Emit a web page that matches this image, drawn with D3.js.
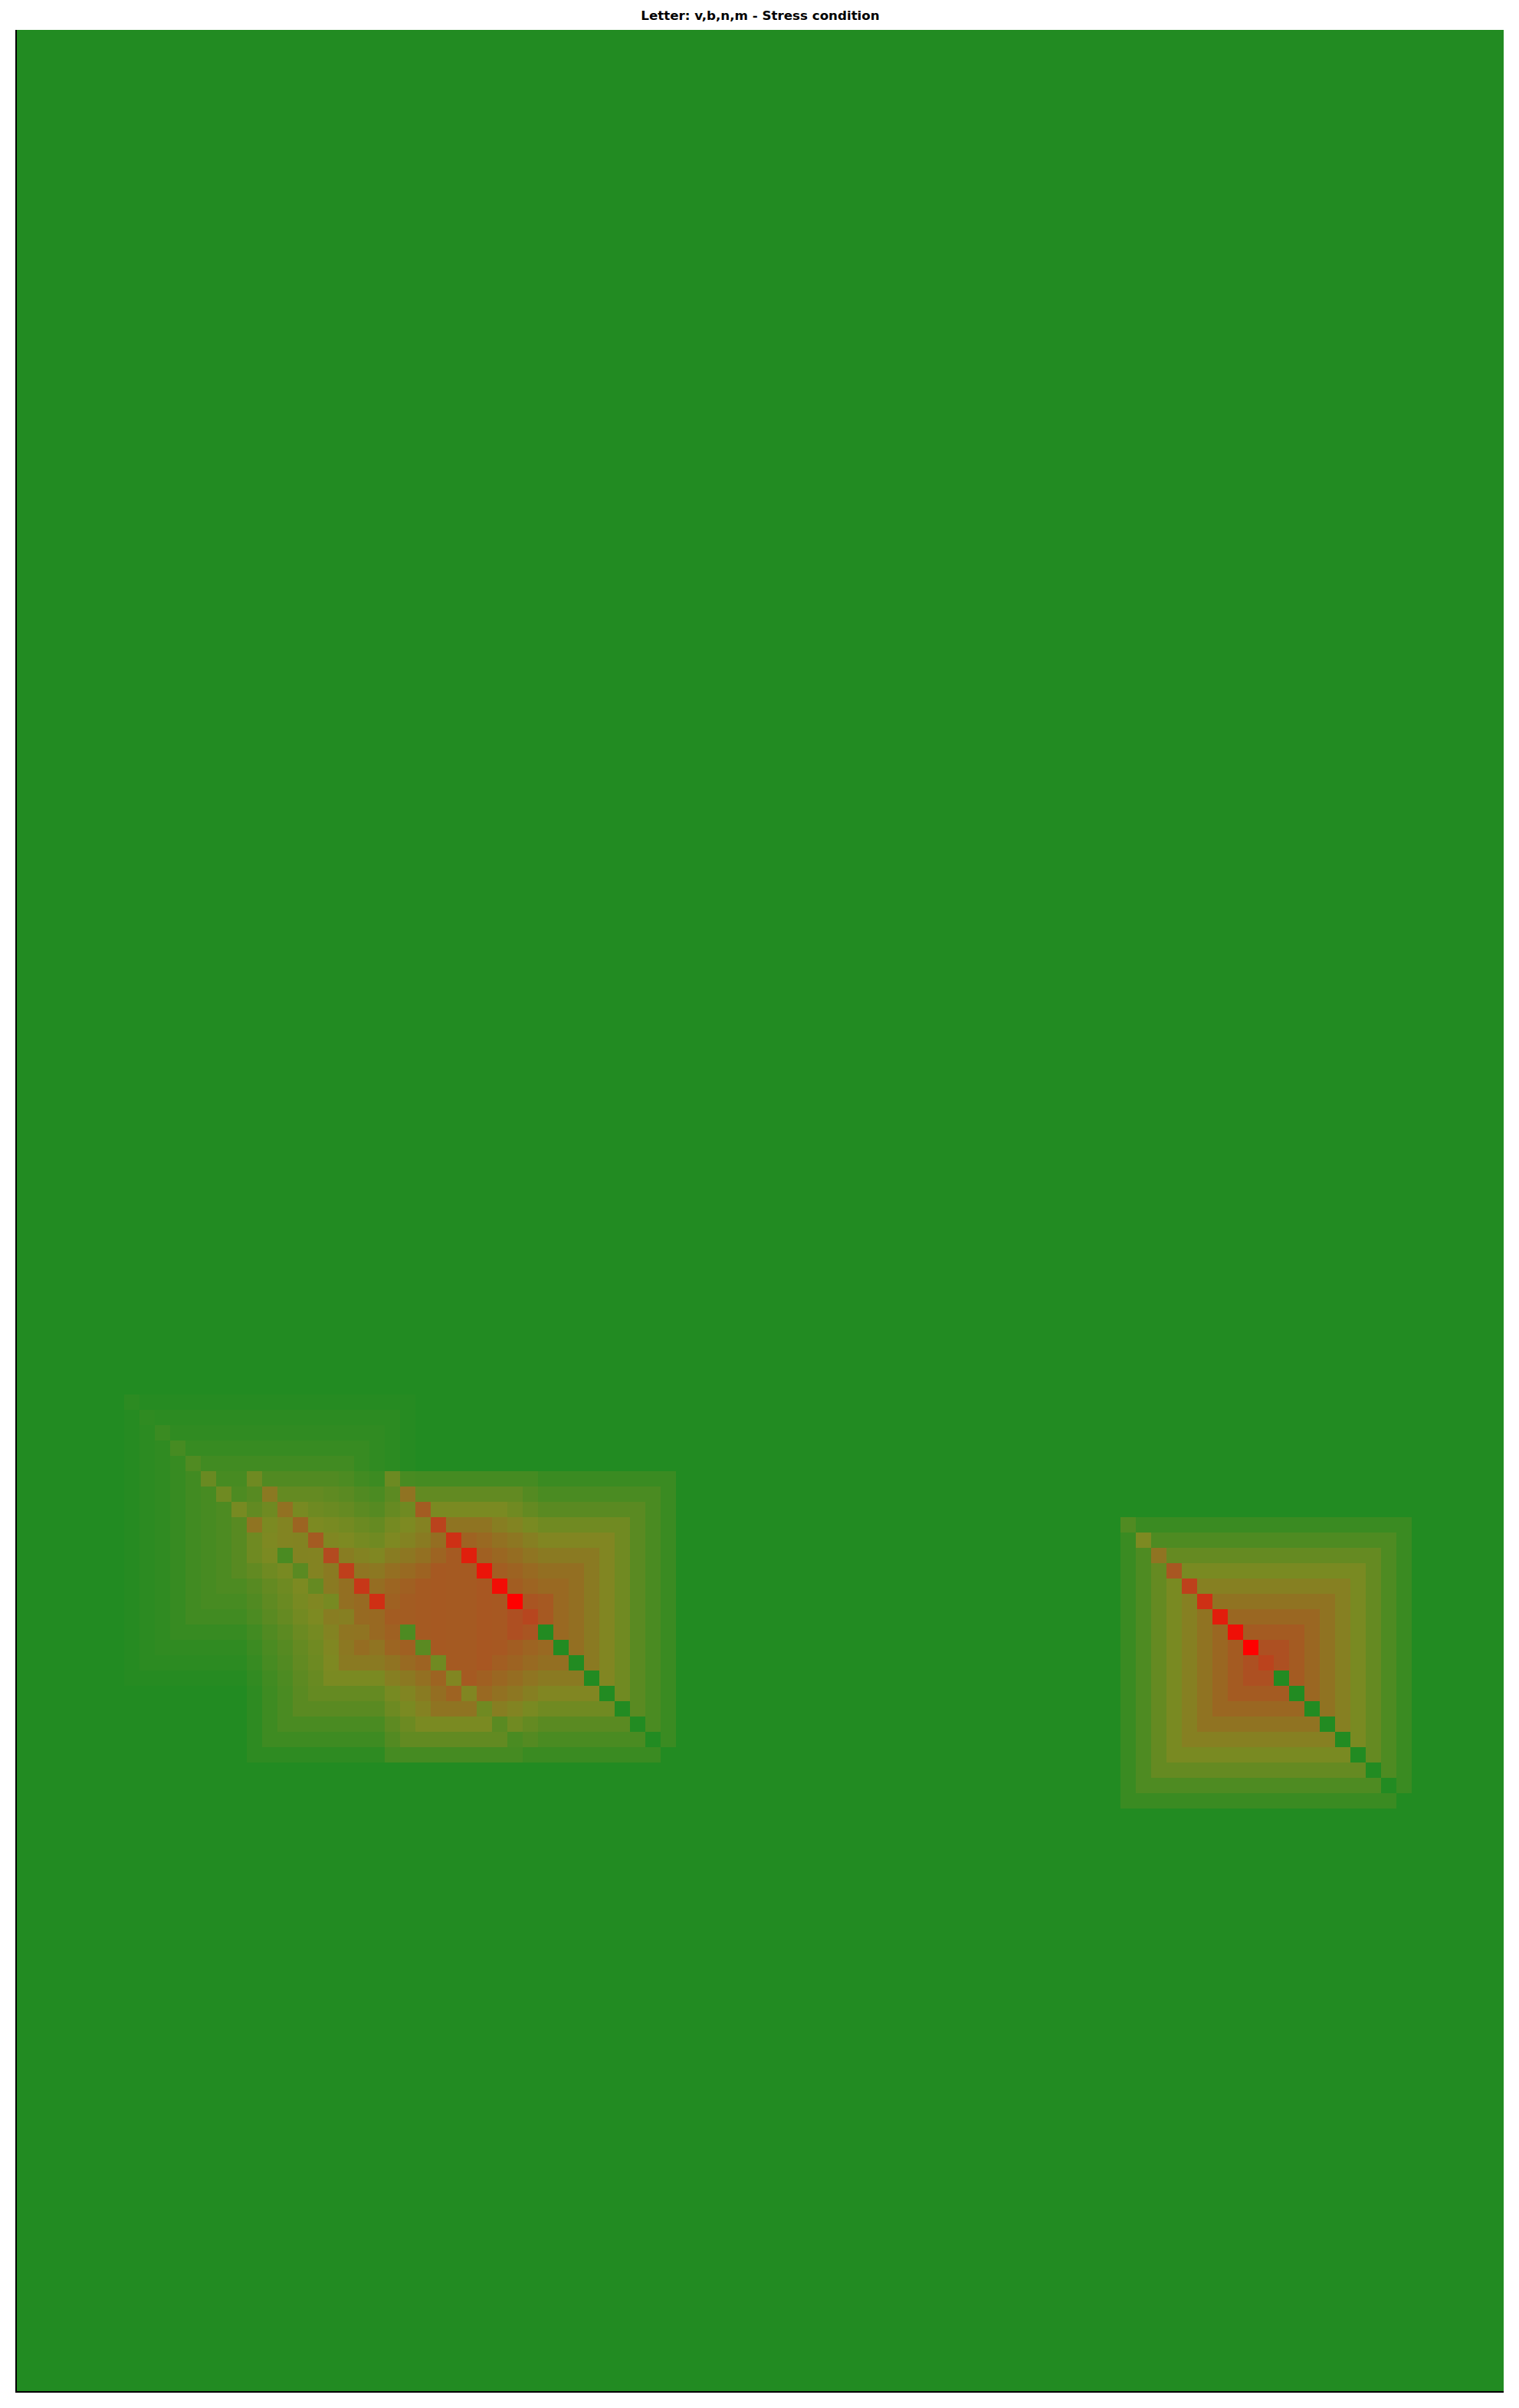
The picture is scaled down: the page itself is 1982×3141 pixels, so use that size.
<!DOCTYPE html>
<html>
<head>
<meta charset="utf-8">
<script src="https://cdn.jsdelivr.net/npm/d3@7"></script>
<style>
  html, body { margin: 0; padding: 0; background: #ffffff; }
  svg { display: block; }
</style>
</head>
<body>
<div id="chart"></div>
<script>
// ---------------- data ----------------
const titleText = "Letter: v,b,n,m - Stress condition";
const nCols = 97;
const nRows = 154;

// one 19x19 block per letter: top-left cell (column,row)
const letters  = ["v", "b", "n", "m"];
const blockCol = [7, 15, 24, 72];
const blockRow = [89, 94, 94, 97];
const blockSize = 19;

// ring values, outer ring -> centre cell
const ringV = [0.014, 0.035, 0.05, 0.074, 0.11, 0.13, 0.15, 0.19, 0.24, 0.25];
const ringB = [0.042, 0.098, 0.14, 0.197, 0.236, 0.30, 0.37, 0.42, 0.44, 0.465];
const ringN = [0.084, 0.14, 0.197, 0.274, 0.34, 0.39, 0.44, 0.47, 0.54, 0.614];
const ringM = [0.084, 0.155, 0.236, 0.306, 0.366, 0.423, 0.477, 0.531, 0.58, 0.65];

// upper half of each block's main diagonal (first cell -> cell before centre)
const diagV = [0.035, 0.045, 0.084, 0.127, 0.16, 0.25, 0.27, 0.30, 0.395];
const diagB = [0.16, 0.29, 0.30, 0.37, 0.45, 0.55, 0.63, 0.69, 0.74];
const diagN = [0.20, 0.35, 0.45, 0.56, 0.67, 0.79, 0.87, 0.92, 1.0];
const diagM = [0.16, 0.32, 0.42, 0.55, 0.66, 0.75, 0.85, 0.92, 1.0];
// lower half of the diagonal is 0 in every block

const ringVals = [ringV, ringB, ringN, ringM];
const diagVals = [diagV, diagB, diagN, diagM];

// colour stops
const colorDomain = [0, 0.32, 0.59, 1];
const colorRange  = ["#228B22", "#7D8A22", "#AF4E22", "#FF0000"];

// ---------------- build grid ----------------
function blockValue(b, c, r) {
  const i = r - blockRow[b], j = c - blockCol[b];
  if (i < 0 || j < 0 || i >= blockSize || j >= blockSize) return 0;
  const half = (blockSize - 1) / 2;
  if (i === j) {
    if (i < half) return diagVals[b][i];
    if (i === half) return ringVals[b][half];
    return 0;
  }
  const dist = Math.max(Math.abs(i - half), Math.abs(j - half));
  return ringVals[b][half - dist];
}

const cells = [];
for (let r = 0; r < nRows; r++) {
  for (let c = 0; c < nCols; c++) {
    let keep = 1;
    for (let b = 0; b < letters.length; b++) keep *= (1 - blockValue(b, c, r));
    cells.push({ r, c, v: 1 - keep });
  }
}

// ---------------- draw ----------------
const W = 1982, H = 3141;
const plot = { left: 22, top: 39, right: 1962, bottom: 3119 };

const svg = d3.select("#chart").append("svg")
  .attr("width", W).attr("height", H)
  .attr("viewBox", `0 0 ${W} ${H}`);

svg.append("rect").attr("width", W).attr("height", H).attr("fill", "#ffffff");

const x = d3.scaleBand().domain(d3.range(nCols)).range([plot.left, plot.right]).padding(0);
const y = d3.scaleBand().domain(d3.range(nRows)).range([plot.top, plot.bottom]).padding(0);
const color = d3.scaleLinear().domain(colorDomain).range(colorRange).clamp(true);

svg.append("g")
  .attr("shape-rendering", "crispEdges")
  .selectAll("rect")
  .data(cells)
  .join("rect")
  .attr("x", d => x(d.c))
  .attr("y", d => y(d.r))
  .attr("width", x.bandwidth())
  .attr("height", y.bandwidth())
  .attr("fill", d => color(d.v));

// spines (left and bottom visible)
const spine = svg.append("g").attr("shape-rendering", "crispEdges");
spine.append("rect").attr("x", plot.left - 2).attr("y", plot.top)
  .attr("width", 2).attr("height", plot.bottom - plot.top + 2).attr("fill", "#000");
spine.append("rect").attr("x", plot.left - 2).attr("y", plot.bottom)
  .attr("width", plot.right - plot.left + 2).attr("height", 2).attr("fill", "#000");

// title
svg.append("text")
  .attr("x", (plot.left + plot.right) / 2)
  .attr("y", 26)
  .attr("text-anchor", "middle")
  .attr("font-family", "DejaVu Sans, sans-serif")
  .attr("font-weight", "bold")
  .attr("font-size", "16.7px")
  .attr("fill", "#000")
  .text(titleText);
</script>
</body>
</html>
